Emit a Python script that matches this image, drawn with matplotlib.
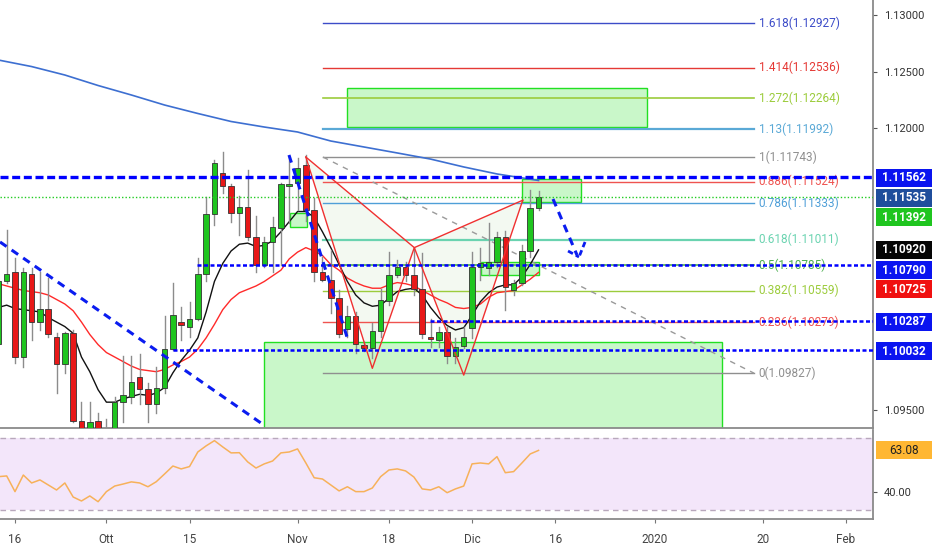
import matplotlib
matplotlib.use('Agg')
import matplotlib.pyplot as plt
import matplotlib.transforms as mtransforms
from matplotlib.patches import Rectangle, Polygon
from matplotlib import font_manager
import numpy as np

# ---------------- data (EUR/USD daily, bar 0 = 16 Sep 2019) ----------------
first_bar = -2

opens = [1.1009, 1.1064, 1.1072, 1.0997, 1.1071, 1.1028, 1.1040, 1.1015, 1.0991, 1.1018,
         1.0940, 1.0930, 1.0940, 1.0931, 1.0931, 1.0957, 1.0962, 1.0979, 1.0969, 1.0955,
         1.0970, 1.1004, 1.1028, 1.1024, 1.1031, 1.1071, 1.1124, 1.1160, 1.1149, 1.1125,
         1.1130, 1.1103, 1.1079, 1.1099, 1.1111, 1.1149, 1.1151, 1.1167, 1.1127, 1.1072,
         1.1065, 1.1049, 1.1022, 1.1033, 1.1008, 1.1005, 1.1020, 1.1047, 1.1070, 1.1077,
         1.1070, 1.1057, 1.1015, 1.1012, 1.1019, 1.0998, 1.1007, 1.1023, 1.1077, 1.1076,
         1.1081, 1.1103, 1.1056, 1.1063, 1.1091, 1.1129]
highs = [1.1079, 1.1110, 1.1085, 1.1076, 1.1076, 1.1072, 1.1067, 1.1018, 1.1019, 1.1021,
         1.0957, 1.0957, 1.0947, 1.0942, 1.0962, 1.0998, 1.0998, 1.1000, 1.0974, 1.0988,
         1.1033, 1.1063, 1.1041, 1.1046, 1.1085, 1.1139, 1.1172, 1.1179, 1.1150, 1.1140,
         1.1163, 1.1122, 1.1103, 1.1121, 1.1151, 1.1175, 1.1173, 1.1176, 1.1138, 1.1086,
         1.1092, 1.1056, 1.1042, 1.1037, 1.1010, 1.1027, 1.1057, 1.1090, 1.1083, 1.1081,
         1.1094, 1.1089, 1.1031, 1.1024, 1.1024, 1.1014, 1.1024, 1.1090, 1.1094, 1.1116,
         1.1108, 1.1109, 1.1065, 1.1096, 1.1145, 1.1144]
lows = [1.1007, 1.1063, 1.0992, 1.0988, 1.1012, 1.1021, 1.1015, 1.0965, 1.0983, 1.0939,
        1.0928, 1.0928, 1.0928, 1.0919, 1.0929, 1.0939, 1.0956, 1.0955, 1.0939, 1.0947,
        1.0965, 1.1003, 1.1012, 1.1015, 1.1030, 1.1064, 1.1114, 1.1142, 1.1117, 1.1105,
        1.1101, 1.1072, 1.1077, 1.1072, 1.1079, 1.1116, 1.1127, 1.1118, 1.1064, 1.1064,
        1.1036, 1.1015, 1.1015, 1.1001, 1.1002, 1.0996, 1.1015, 1.1043, 1.1068, 1.1064,
        1.1052, 1.1014, 1.1006, 1.1006, 1.0992, 1.0992, 1.1005, 1.1014, 1.1065, 1.1070,
        1.1077, 1.1039, 1.1052, 1.1061, 1.1086, 1.1127]
closes = [1.1064, 1.1071, 1.0997, 1.1072, 1.1028, 1.1040, 1.1017, 1.0991, 1.1018, 1.0940,
          1.0930, 1.0939, 1.0930, 1.0923, 1.0957, 1.0963, 1.0975, 1.0969, 1.0955, 1.0970,
          1.1004, 1.1034, 1.1025, 1.1031, 1.1071, 1.1124, 1.1169, 1.1149, 1.1125, 1.1130,
          1.1103, 1.1079, 1.1099, 1.1112, 1.1150, 1.1150, 1.1165, 1.1127, 1.1072, 1.1065,
          1.1049, 1.1017, 1.1033, 1.1009, 1.1005, 1.1020, 1.1048, 1.1070, 1.1077, 1.1070,
          1.1057, 1.1017, 1.1013, 1.1019, 1.0998, 1.1006, 1.1015, 1.1077, 1.1080, 1.1081,
          1.1103, 1.1059, 1.1063, 1.1091, 1.1129, 1.1139]

ema_fast = [1.1041, 1.1043, 1.1040, 1.1039, 1.1038, 1.1037, 1.1032, 1.1028, 1.1024, 1.1018,
            1.0997, 1.0984, 1.0968, 1.0957, 1.0957, 1.0960, 1.0962, 1.0964, 1.0963, 1.0965,
            1.0970, 1.0983, 1.0994, 1.1003, 1.1014, 1.1037, 1.1064, 1.1080, 1.1091, 1.1097,
            1.1098, 1.1095, 1.1096, 1.1100, 1.1108, 1.1117, 1.1126, 1.1126, 1.1121, 1.1108,
            1.1094, 1.1079, 1.1064, 1.1052, 1.1045, 1.1042, 1.1043, 1.1049, 1.1055, 1.1057,
            1.1058, 1.1052, 1.1041, 1.1032, 1.1025, 1.1021, 1.1023, 1.1034, 1.1046, 1.1054,
            1.1059, 1.1061, 1.1061, 1.1068, 1.1079, 1.1092]
ema_slow = [1.1062, 1.1060, 1.1058, 1.1056, 1.1055, 1.1054, 1.1052, 1.1048, 1.1044, 1.1038,
            1.1028, 1.1017, 1.1008, 1.1001, 1.0997, 1.0993, 1.0989, 1.0986, 1.0985, 1.0984,
            1.0986, 1.0990, 1.0993, 1.0997, 1.1004, 1.1014, 1.1026, 1.1039, 1.1048, 1.1054,
            1.1057, 1.1060, 1.1064, 1.1069, 1.1074, 1.1084, 1.1090, 1.1094, 1.1091, 1.1087,
            1.1079, 1.1074, 1.1067, 1.1063, 1.1060, 1.1058, 1.1058, 1.1061, 1.1063, 1.1062,
            1.1060, 1.1056, 1.1052, 1.1048, 1.1045, 1.1041, 1.1040, 1.1041, 1.1044, 1.1050,
            1.1054, 1.1055, 1.1056, 1.1061, 1.1066, 1.1072]
sma200_bars = [-2, 2, 6, 10, 14, 18, 22, 26, 30, 34, 38, 42, 46, 50, 54, 58, 63]
sma200 = [1.12603, 1.12545, 1.12470, 1.12377, 1.12293, 1.12204, 1.12129, 1.12058, 1.12009,
          1.11965, 1.11885, 1.11832, 1.11779, 1.11725, 1.11655, 1.11593, 1.11535]

rsi = [48.5, 48.9, 40.2, 49.4, 45.0, 46.7, 43.9, 41.1, 45.0, 37.2,
       35.0, 37.8, 34.6, 40.2, 43.3, 44.4, 45.6, 45.0, 42.9, 45.7,
       50.0, 54.4, 52.8, 54.1, 62.2, 65.6, 68.5, 65.0, 61.7, 61.8,
       56.7, 53.3, 55.6, 57.2, 61.7, 62.2, 63.9, 56.1, 47.9, 47.2,
       43.9, 40.6, 42.9, 40.2, 40.2, 42.2, 48.5, 52.2, 52.8, 51.7,
       48.3, 41.7, 41.1, 42.9, 39.6, 41.7, 43.3, 55.6, 56.1, 55.6,
       59.6, 50.7, 51.3, 56.1, 61.1, 63.08]

tick_bars = [0, 11, 21, 34, 45, 55, 65, 77, 90, 100]
tick_labels = ['16', 'Ott', '15', 'Nov', '18', 'Dic', '16', '2020', '20', 'Feb']

# fibonacci extension drawn from bar 37 to bar 89
fib_bars = [37.06, 88.93]
fib_ratios = ['1.618', '1.414', '1.272', '1.13', '1', '0.886', '0.786', '0.618', '0.5', '0.382', '0.236', '0']
fib_prices = [1.12927, 1.12536, 1.12264, 1.11992, 1.11743, 1.11524, 1.11333, 1.11011, 1.10785, 1.10559, 1.10279, 1.09827]
fib_colors = ['#3c4cc8', '#e53935', '#9ccc3c', '#5aa9d6', '#8f8f8f', '#ef5350', '#4f9fd8', '#6ad3b0',
              '#4caf50', '#9ccc3c', '#ef5350', '#8f8f8f']
fib_widths = [1, 1, 1.2, 1.6, 1, 1, 1, 1.6, 1.2, 1, 1, 1]

# XABCD pattern
xabcd_bars = [35.0, 43.0, 48.05, 54.0, 61.1]
xabcd_prices = [1.11743, 1.0987, 1.1094, 1.0981, 1.1136]

# green zones: bar start, bar end, low, high
zones = [(40.0, 76.0, 1.12009, 1.12355),
         (61.0, 68.1, 1.11344, 1.11548),
         (33.1, 35.1, 1.11123, 1.11247),
         (56.1, 63.05, 1.10697, 1.10812),
         (48.0, 58.0, 1.09926, 1.10050),
         (53.9, 60.05, 1.09412, 1.09491),
         (30.0, 85.1, 1.0900, 1.10103)]

# horizontal levels (price, start bar)
blue_levels = [(1.11562, -3), (1.10790, 21.9), (1.10287, 49.9), (1.10032, 19.0)]
last_price = 1.11392

# diagonal blue dashed lines
diag_lines = [((-1.8, 1.1099), (29.7, 1.0938)),
              ((32.97, 1.11761), (40.07, 1.10121)),
              ((64.74, 1.11371), (67.63, 1.10874))]
arrow_arms = [((66.55, 1.10910), (67.87, 1.10857)), ((68.6, 1.10990), (67.87, 1.10857))]

# price axis ticks that stay visible next to the tags
price_ticks = [1.095, 1.12, 1.125, 1.13]

# right axis price tags: (center price, text, bg colour)
tags = [(1.11561, '1.11562', '#0a14f0'),
        (1.11384, '1.11535', '#1f4e9c'),
        (1.11207, '1.11392', '#1fc51f'),
        (1.10923, '1.10920', '#050505'),
        (1.10741, '1.10790', '#0a14f0'),
        (1.10569, '1.10725', '#f01010'),
        (1.10281, '1.10287', '#0a14f0'),
        (1.10023, '1.10032', '#0a14f0')]

# ---------------- fonts ----------------
have = {f.name for f in font_manager.fontManager.ttflist}
narrow = 'Liberation Sans Narrow' if 'Liberation Sans Narrow' in have else 'Roboto'
plt.rcParams['font.family'] = [narrow, 'DejaVu Sans']

# ---------------- figure ----------------
fig = plt.figure(figsize=(9.32, 5.5), dpi=100)
ax = fig.add_axes([0, 1 - 428 / 550, 873 / 932, 428 / 550])
ax2 = fig.add_axes([0, 1 - 519 / 550, 873 / 932, 89 / 550])

x = np.arange(len(opens)) + first_bar
xmin, xmax = -15 / 8.31, (873 - 15) / 8.31
for a in (ax, ax2):
    a.set_xlim(xmin, xmax)
    a.set_facecolor('white')
    for s in ('top', 'left'):
        a.spines[s].set_visible(False)
    for s in ('bottom', 'right'):
        a.spines[s].set_color('#8a8a8a')
        a.spines[s].set_linewidth(1.3)
ax.set_ylim(1.09341, 1.13135)

# zones
for x0, x1, lo, hi in zones:
    ax.add_patch(Rectangle((x0, lo), x1 - x0, hi - lo, facecolor='#c9f7c9', edgecolor='#22e022',
                           lw=1.0, zorder=1))

# fib levels
for r, p, c, w in zip(fib_ratios, fib_prices, fib_colors, fib_widths):
    ax.plot(fib_bars, [p, p], color=c, lw=w, zorder=2)
    ax.text(89.5, p, '%s(%.5f)' % (r, p), color=c, fontsize=8.5, va='center', ha='left', zorder=3)
ax.plot(fib_bars, [fib_prices[4], fib_prices[-1]], color='#9a9a9a', lw=1, ls=(0, (4, 4)), zorder=2)

# XABCD pattern
ax.add_patch(Polygon(list(zip(xabcd_bars[:3], xabcd_prices[:3])), closed=True,
                     facecolor='#eef7ec', edgecolor='none', alpha=0.7, zorder=0.6))
ax.add_patch(Polygon(list(zip(xabcd_bars[2:], xabcd_prices[2:])), closed=True,
                     facecolor='#eef7ec', edgecolor='none', alpha=0.7, zorder=0.6))
ax.plot(xabcd_bars, xabcd_prices, color='#f03030', lw=1, zorder=6)
ax.plot([xabcd_bars[0], xabcd_bars[2], xabcd_bars[4]],
        [xabcd_prices[0], xabcd_prices[2], xabcd_prices[4]], color='#f03030', lw=1, zorder=6)

# moving averages
ax.plot(sma200_bars, sma200, color='#3d6fd1', lw=1.2, zorder=4)
ax.plot(x, ema_slow, color='#ff2a2a', lw=1, zorder=4)
ax.plot(x, ema_fast, color='#111111', lw=1, zorder=4)

# candles
for xi, o, h, l, c in zip(x, opens, highs, lows, closes):
    ax.plot([xi, xi], [l, h], color='#8c8c8c', lw=1, zorder=4.5)
    col = '#1fc51f' if c >= o else '#e81818'
    ax.add_patch(Rectangle((xi - 0.33, min(o, c)), 0.66, max(abs(c - o), 0.00004),
                           facecolor=col, edgecolor='#333333', lw=0.6, zorder=5))

# horizontal levels
for p, b in blue_levels:
    if b < xmin:
        ax.plot([xmin, xmax], [p, p], color='#0000ff', lw=2.4, ls=(0, (2.4, 1.1)), zorder=7)
    else:
        ax.plot([b, xmax], [p, p], color='#0000ff', lw=1.8, ls=(0, (1.6, 1.0)), zorder=7)
ax.axhline(last_price, color='#22cc22', lw=1, ls=(0, (1, 1.5)), zorder=7)

# diagonal lines
for (x0, y0), (x1, y1) in diag_lines:
    ax.plot([x0, x1], [y0, y1], color='#0a1cf0', lw=2.2, ls=(0, (2.6, 2.0)), zorder=7)
for (x0, y0), (x1, y1) in arrow_arms:
    ax.plot([x0, x1], [y0, y1], color='#0a1cf0', lw=2.0, ls=(0, (2.0, 1.2)), zorder=7)

# price axis
ax.yaxis.tick_right()
ax.set_yticks(price_ticks)
ax.set_yticklabels(['%.5f' % v for v in price_ticks])
ax.tick_params(axis='y', colors='#555555', labelcolor='#333333', labelsize=8, length=3, pad=5)
ax.set_xticks([])

tr = mtransforms.blended_transform_factory(ax.transAxes, ax.transData)
h = 18 * (1.13135 - 1.09341) / 428
for p, t, c in tags:
    ax.add_patch(Rectangle((1.0034, p - h / 2), 0.0642, h, transform=tr, facecolor=c,
                           edgecolor='none', clip_on=False, zorder=20))
    ax.text(1.0355, p, t, transform=tr, color='white', fontsize=8.5, ha='center', va='center',
            fontweight='bold', clip_on=False, zorder=21)

# ---------------- RSI pane ----------------
ax2.set_ylim(25, 74.4)
ax2.axhspan(30, 70, color='#f3e6fa', lw=0, zorder=0)
ax2.axhline(70, color='#b8a8bc', lw=1, ls=(0, (4, 3)))
ax2.axhline(30, color='#b8a8bc', lw=1, ls=(0, (4, 3)))
ax2.plot(x, rsi, color='#f7b15a', lw=1.1, zorder=3)
ax2.yaxis.tick_right()
ax2.set_yticks([40])
ax2.set_yticklabels(['40.00'])
ax2.tick_params(axis='y', colors='#555555', labelcolor='#333333', labelsize=8, length=3, pad=5)
tr2 = mtransforms.blended_transform_factory(ax2.transAxes, ax2.transData)
ax2.add_patch(Rectangle((1.0034, rsi[-1] - 5), 0.0642, 10, transform=tr2, facecolor='#ffb733',
                        edgecolor='none', clip_on=False, zorder=20))
ax2.text(1.0355, rsi[-1], '%.2f' % rsi[-1], transform=tr2, color='#222222', fontsize=8.5,
         ha='center', va='center', clip_on=False, zorder=21)

ax2.set_xticks(tick_bars)
ax2.set_xticklabels(tick_labels)
ax2.tick_params(axis='x', colors='#777777', labelcolor='#444444', labelsize=8.5, length=3, pad=7)

fig.savefig('out.png', dpi=100)
